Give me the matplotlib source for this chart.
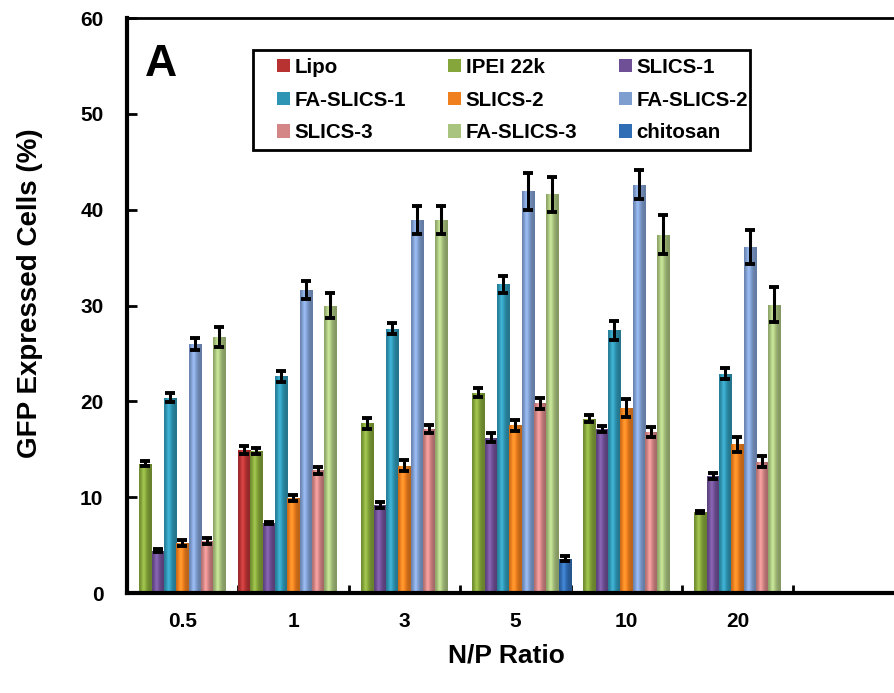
import numpy as np
import matplotlib
matplotlib.use("Agg")
import matplotlib.pyplot as plt
from matplotlib.colors import to_rgb
from matplotlib.patches import Patch, Rectangle

categories = ["0.5", "1", "3", "5", "10", "20", ""]
series = ["Lipo", "IPEI 22k", "SLICS-1", "FA-SLICS-1", "SLICS-2",
          "FA-SLICS-2", "SLICS-3", "FA-SLICS-3", "chitosan"]
nan = np.nan
lipo      = [nan, 14.9, nan, nan, nan, nan, nan]
ipei      = [13.5, 14.8, 17.7, 20.9, 18.2, 8.5, nan]
slics1    = [4.4, 7.3, 9.2, 16.2, 17.1, 12.2, nan]
fa_slics1 = [20.4, 22.6, 27.6, 32.2, 27.4, 22.9, nan]
slics2    = [5.2, 9.9, 13.3, 17.5, 19.3, 15.5, nan]
fa_slics2 = [26.0, 31.6, 38.9, 41.9, 42.6, 36.1, nan]
slics3    = [5.4, 12.8, 17.1, 19.8, 16.8, 13.7, nan]
fa_slics3 = [26.7, 30.0, 38.9, 41.6, 37.4, 30.1, nan]
chitosan  = [nan, nan, nan, 3.6, nan, nan, nan]

lipo_err      = [nan, 0.4, nan, nan, nan, nan, nan]
ipei_err      = [0.25, 0.3, 0.55, 0.45, 0.4, 0.1, nan]
slics1_err    = [0.15, 0.15, 0.3, 0.45, 0.35, 0.3, nan]
fa_slics1_err = [0.5, 0.6, 0.6, 0.9, 0.95, 0.55, nan]
slics2_err    = [0.3, 0.35, 0.55, 0.6, 0.9, 0.75, nan]
fa_slics2_err = [0.65, 0.95, 1.45, 1.9, 1.5, 1.75, nan]
slics3_err    = [0.3, 0.35, 0.45, 0.6, 0.55, 0.55, nan]
fa_slics3_err = [1.05, 1.3, 1.45, 1.8, 2.0, 1.85, nan]
chitosan_err  = [nan, nan, nan, 0.3, nan, nan, nan]

values = [lipo, ipei, slics1, fa_slics1, slics2, fa_slics2, slics3, fa_slics3, chitosan]
errors = [lipo_err, ipei_err, slics1_err, fa_slics1_err, slics2_err,
          fa_slics2_err, slics3_err, fa_slics3_err, chitosan_err]
colors = ["#B83232", "#85A63A", "#6F4F96", "#2E96B4", "#F0801E",
          "#7F9ED0", "#D48585", "#A9C47E", "#2F6DB5"]

FONT = ["Liberation Sans", "DejaVu Sans"]
plt.rcParams["font.family"] = FONT

fig = plt.figure(figsize=(8.95, 6.93), dpi=100)
ax = fig.add_axes([0.1419, 0.1443, 0.868, 0.8297])

n = len(series)
w = 1.0 / n
x = np.arange(len(categories))


def shade(c):
    base = np.array(to_rgb(c))
    t = np.linspace(0, 1, 64)
    f = 0.78 + 0.32 * np.exp(-((t - 0.38) / 0.28) ** 2)
    cols = np.clip(base[None, :] * f[:, None]
                   + 0.06 * np.exp(-((t - 0.35) / 0.12) ** 2)[:, None], 0, 1)
    return cols[None, :, :]


for j, (vals, errs, col) in enumerate(zip(values, errors, colors)):
    pos = x + (j - (n - 1) / 2) * w
    bars = ax.bar(pos, vals, width=w, color=col, edgecolor="none", zorder=2)
    for b in bars:
        h = b.get_height()
        if not np.isfinite(h):
            continue
        x0 = b.get_x()
        im = ax.imshow(shade(col), extent=[x0, x0 + b.get_width(), 0, h],
                       aspect="auto", zorder=2.1, interpolation="bilinear")
        im.set_clip_path(b)
    ax.errorbar(pos, vals, yerr=errs, fmt="none", ecolor="black",
                elinewidth=2.2, capsize=3.5, capthick=2.8, zorder=3)

ax.set_xlim(-0.5, len(categories) - 0.5)
ax.set_ylim(0, 60)
ax.set_yticks(np.arange(0, 61, 10))
ax.set_xticks(x)
ax.set_xticklabels(categories, fontsize=15, fontweight="bold")
ax.set_xticks(np.arange(len(categories) + 1) - 0.5, minor=True)
ax.tick_params(axis="x", which="major", length=0, pad=14)
ax.tick_params(axis="x", which="minor", direction="in", length=6, width=2)
ax.tick_params(axis="y", direction="in", length=7, width=2, pad=17)
for lab in ax.get_yticklabels():
    lab.set_fontsize(15)
    lab.set_fontweight("bold")

ax.spines["left"].set_linewidth(3)
ax.spines["bottom"].set_linewidth(3)
ax.spines["top"].set_linewidth(2)
ax.spines["right"].set_linewidth(2)

ax.set_ylabel("GFP Expressed Cells (%)", fontsize=20, fontweight="bold")
ax.yaxis.set_label_coords(-0.108, 0.5217)
ax.set_xlabel("N/P Ratio", fontsize=19, fontweight="bold", va="top")
ax.xaxis.set_label_coords(0.489, -0.087)

ax.text(0.023, 0.92, "A", transform=ax.transAxes, fontsize=32,
        fontweight="bold", va="center", ha="left")

handles = [Patch(facecolor=c, edgecolor="none") for c in colors]
order = [0, 3, 6, 1, 4, 7, 2, 5, 8]
leg = ax.legend([handles[i] for i in order], [series[i] for i in order],
                ncol=3, loc="upper left", bbox_to_anchor=(0.1835, 0.944),
                borderaxespad=0, frameon=False,
                prop={"family": FONT, "weight": "bold", "size": 14.8},
                handlelength=0.62, handleheight=0.62, handletextpad=0.22,
                columnspacing=2.05, labelspacing=0.66, borderpad=0.38)
leg.set_zorder(5)

# legend frame: wide left inset, tight right inset
fig.canvas.draw()
bb = leg.get_window_extent(fig.canvas.get_renderer())
padl, padr = 17, -6
frame = Rectangle((bb.x0 - padl, bb.y0), bb.width + padl + padr, bb.height,
                  transform=None, facecolor="white", edgecolor="black",
                  linewidth=2, zorder=4)
ax.add_artist(frame)

fig.savefig("out.png", dpi=100)
